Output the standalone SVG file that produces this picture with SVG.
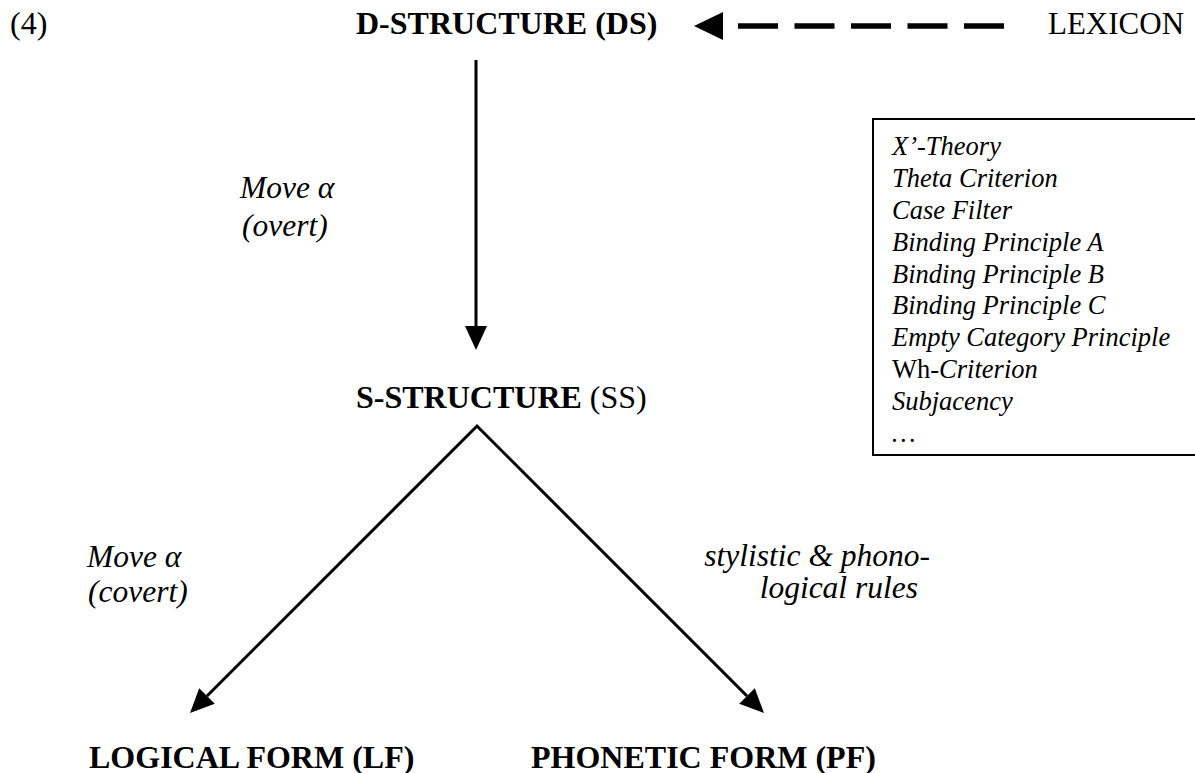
<svg xmlns="http://www.w3.org/2000/svg" width="1195" height="773" viewBox="0 0 1195 773">
<style>
text{font-family:"Liberation Serif","Times New Roman",serif;fill:#000}
.big{font-size:32px}
.b{font-weight:bold}
.lab{font-size:31.5px;font-style:italic}
.box{font-size:26.5px;font-style:italic}
.r{font-style:normal}
.ln{stroke:#000;stroke-width:3;fill:none}
</style>
<defs>
<marker id="ah" markerUnits="userSpaceOnUse" markerWidth="24" markerHeight="22" refX="0" refY="11" orient="auto-start-reverse" overflow="visible">
<path d="M0,0 L24,11 L0,22 Z" fill="#000"/>
</marker>
<marker id="ahd" markerUnits="userSpaceOnUse" markerWidth="29" markerHeight="28" refX="-15" refY="14" orient="auto" overflow="visible">
<path d="M0,0 L29,14 L0,28 Z" fill="#000"/>
</marker>
</defs>
<text class="big" x="10" y="34">(4)</text>
<g id="ds"><text class="big b" x="356" y="34">D-STRUCTURE (DS)</text></g>
<g id="lexicon"><text class="big" x="1048" y="34" style="font-size:31px">LEXICON</text></g>
<g id="ss"><text class="big" x="356" y="408"><tspan class="b">S-STRUCTURE</tspan> (SS)</text></g>
<g id="lf"><text class="big b" x="89" y="768">LOGICAL FORM (LF)</text></g>
<g id="pf"><text class="big b" x="531" y="768">PHONETIC FORM (PF)</text></g>
<g id="principles">
<rect x="873" y="119" width="400" height="336" fill="none" stroke="#000" stroke-width="2"/>
<text class="box" x="892" y="155">X’-Theory</text>
<text class="box" x="892" y="187">Theta Criterion</text>
<text class="box" x="892" y="219">Case Filter</text>
<text class="box" x="892" y="251">Binding Principle A</text>
<text class="box" x="892" y="283">Binding Principle B</text>
<text class="box" x="892" y="314">Binding Principle C</text>
<text class="box" x="892" y="346">Empty Category Principle</text>
<text class="box" x="892" y="378"><tspan class="r">Wh-</tspan>Criterion</text>
<text class="box" x="892" y="410">Subjacency</text>
<text class="box" x="892" y="442">…</text>
</g>
<g id="labels">
<text class="lab" x="240" y="198">Move α</text>
<text class="lab" x="242" y="236">(overt)</text>
<text class="lab" x="87" y="567">Move α</text>
<text class="lab" x="88" y="602">(covert)</text>
<text class="lab" x="930" y="566" text-anchor="end">stylistic &amp; phono-</text>
<text class="lab" x="918" y="598" text-anchor="end">logical rules</text>
</g>
<g id="connectors">
<line class="ln" x1="1004" y1="26" x2="738" y2="26" style="stroke-width:5.6" stroke-dasharray="40 16.5" marker-end="url(#ahd)"/>
<line class="ln" x1="476" y1="60" x2="476" y2="326" marker-end="url(#ah)"/>
<path class="ln" d="M207,696 L477,426 L747,696" marker-start="url(#ah)" marker-end="url(#ah)"/>
</g>
</svg>
